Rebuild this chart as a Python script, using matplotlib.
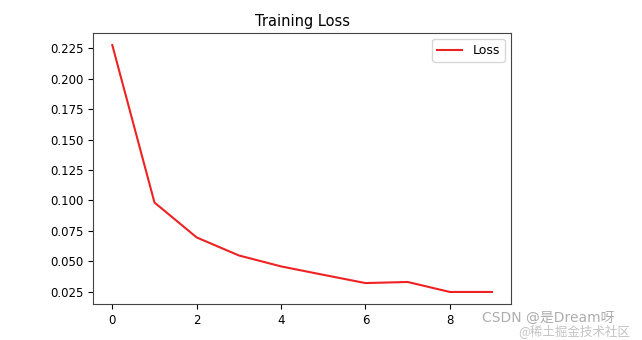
import numpy as np
import matplotlib
matplotlib.use("Agg")
import matplotlib.pyplot as plt

epochs = list(range(10))
loss = [0.2277, 0.0983, 0.0696, 0.0548, 0.0458, 0.0389, 0.0321, 0.0330, 0.0248, 0.0248]

plt.rcParams['font.family'] = ['DejaVu Sans', 'Noto Sans CJK SC']
plt.rcParams['font.size'] = 8.5

fig = plt.figure(figsize=(6.42, 3.40), dpi=100)
ax = fig.add_axes([93.3 / 642, 1 - 304.3 / 340, 417.7 / 642, 271.6 / 340])

ax.plot(epochs, loss, color='#ee2222', linewidth=1.5, label='Loss')
ax.set_title('Training Loss', fontsize=10.5, pad=4.5)
ax.legend(loc='upper right', fontsize=9)
ax.set_xticks([0, 2, 4, 6, 8])
ax.set_yticks([0.025, 0.05, 0.075, 0.1, 0.125, 0.15, 0.175, 0.2, 0.225])
ax.yaxis.set_major_formatter(matplotlib.ticker.FormatStrFormatter('%.3f'))
for s in ax.spines.values():
    s.set_color('#444444')

# watermarks
fig.text(482 / 642, 1 - 318 / 340, 'CSDN @是Dream呀', fontsize=10, color='#999999',
         alpha=0.8, va='center', family=['DejaVu Sans', 'Noto Sans CJK SC'])
fig.text(518 / 642, 1 - 331 / 340, '@稀土掘金技术社区', fontsize=9, color='#aaaaaa',
         alpha=0.7, va='center', family=['Noto Sans CJK SC', 'DejaVu Sans'])

fig.savefig('out.png', dpi=100)
